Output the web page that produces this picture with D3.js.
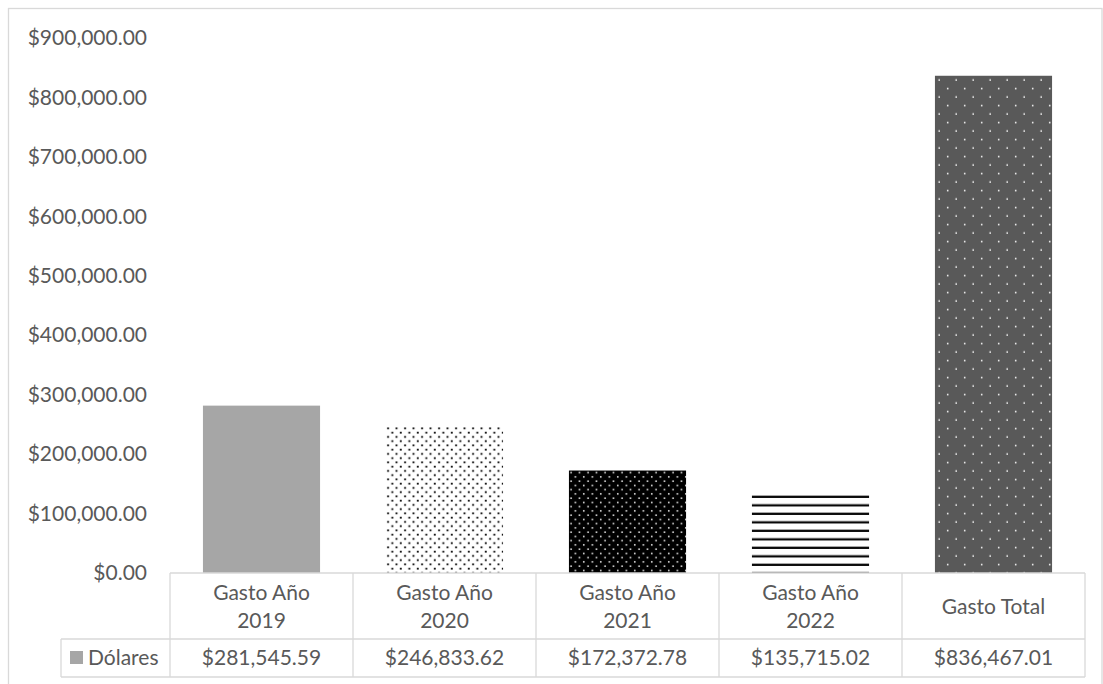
<!DOCTYPE html>
<html>
<head>
<meta charset="utf-8">
<script src="https://cdn.jsdelivr.net/npm/d3@7"></script>
<style>
  body { margin: 0; background: #fff; }
  svg { display: block; }
</style>
</head>
<body>
<div id="chart"></div>
<script>
// data
const categories = ['Gasto Año 2019', 'Gasto Año 2020', 'Gasto Año 2021', 'Gasto Año 2022', 'Gasto Total'];
const values = [281545.59, 246833.62, 172372.78, 135715.02, 836467.01];
const seriesName = 'Dólares';
const yTicks = [0, 100000, 200000, 300000, 400000, 500000, 600000, 700000, 800000, 900000];

const WIDTH = 1103;
const HEIGHT = 684;
const PLOT_LEFT = 170;
const PLOT_RIGHT = 1085;
const PLOT_TOP = 38;
const PLOT_BOTTOM = 573;
const HEADER_BOTTOM = 639;
const TABLE_BOTTOM = 677;
const LEGEND_LEFT = 61;
const TEXT_COLOR = '#595959';
const LINE_COLOR = '#d9d9d9';
const FONT = 'Lato, "Open Sans", sans-serif';
const FONT_SIZE = 21;

// one fill per bar: solid grey, small dots, white dots on black, horizontal lines, sparse dots on dark grey
const BAR_FILLS = [
  { type: 'solid', bg: '#a6a6a6' },
  { type: 'dots', bg: '#ffffff', fg: '#000000', size: 8.5, dot: 1.8 },
  { type: 'dots', bg: '#000000', fg: '#ffffff', size: 8.5, dot: 1.5 },
  { type: 'lines', bg: '#ffffff', fg: '#000000', size: 8.5, thickness: 2.2 },
  { type: 'dots', bg: '#595959', fg: '#ffffff', size: 17, dot: 1.5 },
];

const fmt = d3.format('$,.2f');

const svg = d3.create('svg').attr('width', WIDTH).attr('height', HEIGHT);
const defs = svg.append('defs');

const x = d3.scaleBand().domain(categories).range([PLOT_LEFT, PLOT_RIGHT]).paddingInner(0.36).paddingOuter(0.18);
const col = d3.scaleBand().domain(categories).range([PLOT_LEFT, PLOT_RIGHT]);
const y = d3.scaleLinear().domain([0, d3.max(yTicks)]).range([PLOT_BOTTOM, PLOT_TOP]);

// outer chart border
svg.append('rect')
  .attr('x', 8.5).attr('y', 8.5)
  .attr('width', WIDTH - 9.5).attr('height', HEIGHT + 20)
  .attr('fill', '#fff').attr('stroke', LINE_COLOR).attr('stroke-width', 1.3);

drawYAxis();
drawBars();
drawTable();

document.getElementById('chart').appendChild(svg.node());

function drawYAxis() {
  const axis = d3.axisLeft(y).tickValues(yTicks).tickSize(0).tickPadding(23).tickFormat(fmt);
  const g = svg.append('g').attr('transform', `translate(${PLOT_LEFT},0)`).call(axis);
  g.select('.domain').remove();
  g.selectAll('text')
    .attr('fill', TEXT_COLOR)
    .attr('font-family', FONT)
    .attr('font-size', FONT_SIZE);
}

function makePattern(id, fill, bx, by) {
  const p = defs.append('pattern')
    .attr('id', id)
    .attr('patternUnits', 'userSpaceOnUse')
    .attr('x', bx).attr('y', by)
    .attr('width', fill.size).attr('height', fill.size);
  p.append('rect').attr('width', fill.size).attr('height', fill.size).attr('fill', fill.bg);
  if (fill.type === 'dots') {
    const s = fill.size;
    [[s * 0.25, s * 0.25], [s * 0.75, s * 0.75]].forEach(([cx, cy]) => {
      p.append('rect')
        .attr('x', cx - fill.dot / 2).attr('y', cy - fill.dot / 2)
        .attr('width', fill.dot).attr('height', fill.dot)
        .attr('fill', fill.fg);
    });
  } else if (fill.type === 'lines') {
    p.append('rect')
      .attr('x', 0).attr('y', fill.size * 0.4)
      .attr('width', fill.size).attr('height', fill.thickness)
      .attr('fill', fill.fg);
  }
}

function drawBars() {
  categories.forEach((cat, i) => {
    const fill = BAR_FILLS[i];
    const bx = x(cat);
    const by = y(values[i]);
    let paint = fill.bg;
    if (fill.type !== 'solid') {
      makePattern(`fill-${i}`, fill, bx, by);
      paint = `url(#fill-${i})`;
    }
    svg.append('rect')
      .attr('x', bx).attr('y', by)
      .attr('width', x.bandwidth()).attr('height', PLOT_BOTTOM - by)
      .attr('fill', paint);
  });
}

function drawTable() {
  const g = svg.append('g').attr('stroke', LINE_COLOR).attr('stroke-width', 1.3).attr('fill', 'none');
  // horizontal rules
  g.append('line').attr('x1', PLOT_LEFT).attr('x2', PLOT_RIGHT).attr('y1', PLOT_BOTTOM).attr('y2', PLOT_BOTTOM);
  g.append('line').attr('x1', LEGEND_LEFT).attr('x2', PLOT_RIGHT).attr('y1', HEADER_BOTTOM).attr('y2', HEADER_BOTTOM);
  g.append('line').attr('x1', LEGEND_LEFT).attr('x2', PLOT_RIGHT).attr('y1', TABLE_BOTTOM).attr('y2', TABLE_BOTTOM);
  // vertical rules
  const edges = categories.map((c) => col(c)).concat([PLOT_RIGHT]);
  edges.forEach((ex) => {
    g.append('line').attr('x1', ex).attr('x2', ex).attr('y1', PLOT_BOTTOM).attr('y2', TABLE_BOTTOM);
  });
  g.append('line').attr('x1', LEGEND_LEFT).attr('x2', LEGEND_LEFT).attr('y1', HEADER_BOTTOM).attr('y2', TABLE_BOTTOM);

  const text = svg.append('g')
    .attr('fill', TEXT_COLOR)
    .attr('font-family', FONT)
    .attr('font-size', FONT_SIZE)
    .attr('text-anchor', 'middle');

  categories.forEach((cat, i) => {
    const cx = col(cat) + col.bandwidth() / 2;
    const m = cat.match(/^(.*) (\d{4})$/);
    if (m) {
      text.append('text').attr('x', cx).attr('y', 600).text(m[1]);
      text.append('text').attr('x', cx).attr('y', 628).text(m[2]);
    } else {
      text.append('text').attr('x', cx).attr('y', 614).text(cat);
    }
    text.append('text').attr('x', cx).attr('y', 665).text(fmt(values[i]));
  });

  // legend key
  svg.append('rect')
    .attr('x', 70).attr('y', 651).attr('width', 13).attr('height', 13)
    .attr('fill', BAR_FILLS[0].bg);
  text.append('text')
    .attr('x', 88).attr('y', 665)
    .attr('text-anchor', 'start')
    .text(seriesName);
}
</script>
</body>
</html>
